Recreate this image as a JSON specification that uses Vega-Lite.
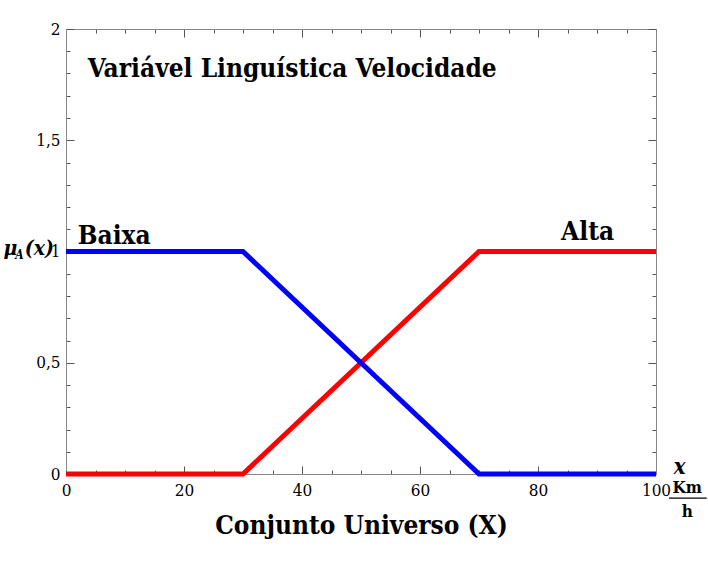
{
  "$schema": "https://vega.github.io/schema/vega-lite/v6.json",
  "width": 590,
  "height": 445,
  "autosize": "none",
  "padding": {"left": 66, "top": 29, "right": 52, "bottom": 92},
  "background": "white",
  "config": {"view": {"stroke": null}, "font": "DejaVu Serif Condensed"},
  "datasets": {
    "lines": [
      {"set": "Alta", "x": 0, "mu": 0, "o": 0},
      {"set": "Alta", "x": 30, "mu": 0, "o": 1},
      {"set": "Alta", "x": 70, "mu": 1, "o": 2},
      {"set": "Alta", "x": 100, "mu": 1, "o": 3},
      {"set": "Baixa", "x": 0, "mu": 1, "o": 0},
      {"set": "Baixa", "x": 30, "mu": 1, "o": 1},
      {"set": "Baixa", "x": 70, "mu": 0, "o": 2},
      {"set": "Baixa", "x": 100, "mu": 0, "o": 3}
    ],
    "big": [
      {"t": "Variável Linguística Velocidade", "x": 3.7, "y": 1.785},
      {"t": "Baixa", "x": 2.0, "y": 1.035}
    ],
    "bigR": [
      {"t": "Alta", "x": 92.9, "y": 1.05}
    ]
  },
  "layer": [
    {
      "data": {"name": "lines"},
      "mark": {"type": "line", "strokeWidth": 5, "clip": false},
      "encoding": {
        "x": {
          "field": "x", "type": "quantitative",
          "scale": {"domain": [0, 100], "nice": false, "zero": false},
          "axis": {
            "orient": "bottom", "title": "Conjunto Universo (X)",
            "values": [0,5,10,15,20,25,30,35,40,45,50,55,60,65,70,75,80,85,90,95,100],
            "tickSize": {"condition": {"test": "datum.value % 20 === 0", "value": -8}, "value": -4},
            "labelExpr": "datum.value % 20 === 0 ? datum.label : ''",
            "labelFontSize": 17, "labelColor": "black", "labelPadding": 16,
            "labelFlush": false, "labelOverlap": false,
            "labelFont": "DejaVu Serif Condensed",
            "tickColor": "#555", "domainColor": "#888", "grid": false,
            "titleFontSize": 26, "titleFontWeight": "bold", "titleColor": "black",
            "titlePadding": 10, "titleFont": "DejaVu Serif Condensed"
          }
        },
        "y": {
          "field": "mu", "type": "quantitative",
          "scale": {"domain": [0, 2], "nice": false},
          "axis": {
            "orient": "left", "title": null,
            "values": [0,0.1,0.2,0.3,0.4,0.5,0.6,0.7,0.8,0.9,1,1.1,1.2,1.3,1.4,1.5,1.6,1.7,1.8,1.9,2],
            "tickSize": {"condition": {"test": "abs(datum.value*2 - round(datum.value*2)) < 0.001", "value": -8}, "value": -4},
            "labelExpr": "abs(datum.value*2 - round(datum.value*2)) < 0.001 ? replace(format(datum.value, '.1~f'), '.', ',') : ''",
            "labelFontSize": 17, "labelColor": "black", "labelPadding": 14,
            "labelFlush": false, "labelOverlap": false,
            "labelFont": "DejaVu Serif Condensed",
            "tickColor": "#555", "domainColor": "#888", "grid": false
          }
        },
        "color": {
          "field": "set", "type": "nominal",
          "scale": {"domain": ["Alta", "Baixa"], "range": ["#ff0000", "#0000ff"]},
          "legend": null
        },
        "order": {"field": "o"}
      }
    },
    {
      "data": {"name": "lines"},
      "mark": {"type": "point", "opacity": 0},
      "encoding": {
        "x": {
          "field": "x", "type": "quantitative",
          "axis": {
            "orient": "top", "title": null,
            "values": [0,5,10,15,20,25,30,35,40,45,50,55,60,65,70,75,80,85,90,95,100],
            "tickSize": {"condition": {"test": "datum.value % 20 === 0", "value": -8}, "value": -4},
            "labels": false, "tickColor": "#555", "domainColor": "#888", "grid": false
          }
        },
        "y": {
          "field": "mu", "type": "quantitative",
          "axis": {
            "orient": "right", "title": null,
            "values": [0,0.1,0.2,0.3,0.4,0.5,0.6,0.7,0.8,0.9,1,1.1,1.2,1.3,1.4,1.5,1.6,1.7,1.8,1.9,2],
            "tickSize": {"condition": {"test": "abs(datum.value*2 - round(datum.value*2)) < 0.001", "value": -8}, "value": -4},
            "labels": false, "tickColor": "#555", "domainColor": "#888", "grid": false
          }
        }
      }
    },
    {
      "data": {"name": "big"},
      "mark": {"type": "text", "align": "left", "baseline": "alphabetic", "fontSize": 26, "fontWeight": "bold", "font": "DejaVu Serif Condensed", "color": "black"},
      "encoding": {
        "x": {"field": "x", "type": "quantitative", "axis": null},
        "y": {"field": "y", "type": "quantitative", "axis": null},
        "text": {"field": "t"}
      }
    },
    {
      "data": {"name": "bigR"},
      "mark": {"type": "text", "align": "right", "baseline": "alphabetic", "fontSize": 26, "fontWeight": "bold", "font": "DejaVu Serif Condensed", "color": "black"},
      "encoding": {
        "x": {"field": "x", "type": "quantitative", "axis": null},
        "y": {"field": "y", "type": "quantitative", "axis": null},
        "text": {"field": "t"}
      }
    },
    {
      "data": {"values": [{"t": "μ", "x": -10.6, "y": 0.985}]},
      "mark": {"type": "text", "align": "left", "baseline": "alphabetic", "fontSize": 21, "fontWeight": "bold", "fontStyle": "italic", "font": "DejaVu Serif Condensed", "color": "black"},
      "encoding": {
        "x": {"field": "x", "type": "quantitative", "axis": null},
        "y": {"field": "y", "type": "quantitative", "axis": null},
        "text": {"field": "t"}
      }
    },
    {
      "data": {"values": [{"t": "A", "x": -8.6, "y": 0.965}]},
      "mark": {"type": "text", "align": "left", "baseline": "alphabetic", "fontSize": 12, "fontWeight": "bold", "fontStyle": "italic", "font": "DejaVu Serif Condensed", "color": "black"},
      "encoding": {
        "x": {"field": "x", "type": "quantitative", "axis": null},
        "y": {"field": "y", "type": "quantitative", "axis": null},
        "text": {"field": "t"}
      }
    },
    {
      "data": {"values": [{"t": "(x)", "x": -7.0, "y": 0.985}]},
      "mark": {"type": "text", "align": "left", "baseline": "alphabetic", "fontSize": 21, "fontWeight": "bold", "fontStyle": "italic", "font": "DejaVu Serif Condensed", "color": "black"},
      "encoding": {
        "x": {"field": "x", "type": "quantitative", "axis": null},
        "y": {"field": "y", "type": "quantitative", "axis": null},
        "text": {"field": "t"}
      }
    },
    {
      "data": {"values": [{"t": "x", "x": 104.0, "y": 0.0}]},
      "mark": {"type": "text", "align": "center", "baseline": "alphabetic", "fontSize": 22, "fontWeight": "bold", "fontStyle": "italic", "font": "DejaVu Serif Condensed", "color": "black"},
      "encoding": {
        "x": {"field": "x", "type": "quantitative", "axis": null},
        "y": {"field": "y", "type": "quantitative", "axis": null},
        "text": {"field": "t"}
      }
    },
    {
      "data": {"values": [{"t": "Km", "x": 105.3, "y": -0.063}, {"t": "h", "x": 105.3, "y": -0.171}]},
      "mark": {"type": "text", "align": "center", "baseline": "middle", "fontSize": 17, "fontWeight": "bold", "font": "DejaVu Serif Condensed", "color": "black"},
      "encoding": {
        "x": {"field": "x", "type": "quantitative", "axis": null},
        "y": {"field": "y", "type": "quantitative", "axis": null},
        "text": {"field": "t"}
      }
    },
    {
      "data": {"values": [{"x": 102.2, "x2": 108.6, "y": -0.108}]},
      "mark": {"type": "rule", "strokeWidth": 1.2, "color": "black"},
      "encoding": {
        "x": {"field": "x", "type": "quantitative", "axis": null},
        "x2": {"field": "x2"},
        "y": {"field": "y", "type": "quantitative", "axis": null}
      }
    }
  ],
  "resolve": {"axis": {"x": "independent", "y": "independent"}}
}
